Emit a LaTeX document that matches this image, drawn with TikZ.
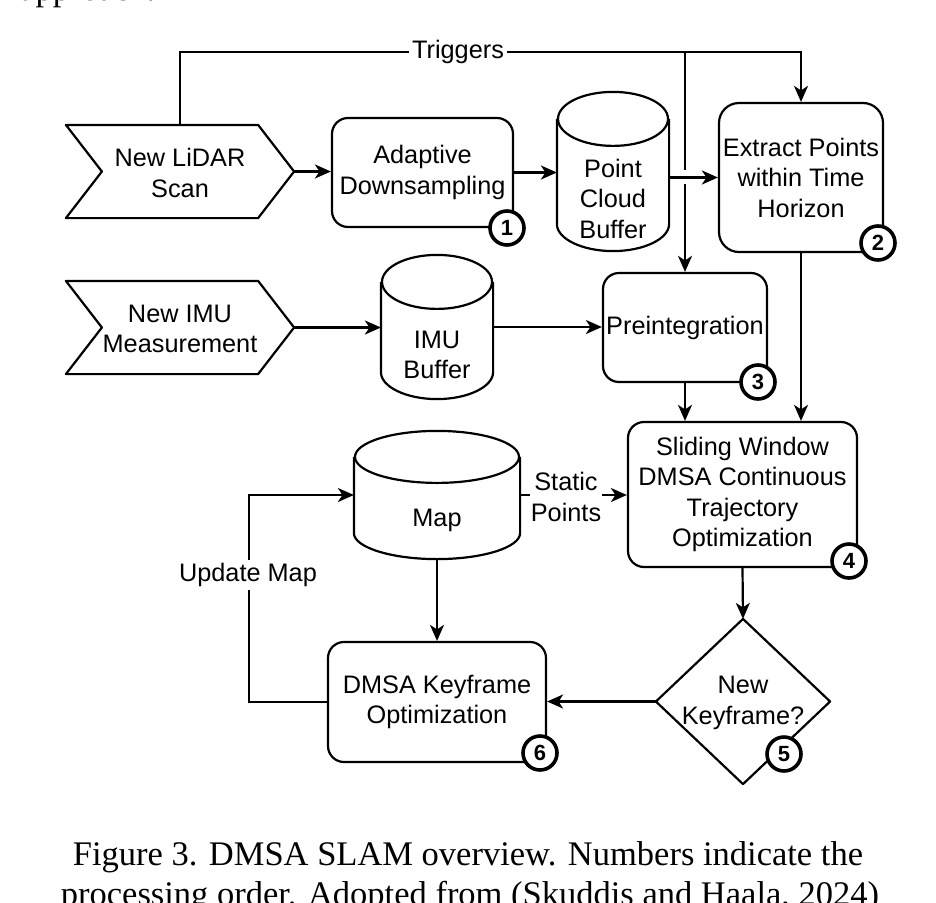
\documentclass[tikz,border=0pt]{standalone}
\usepackage{fontspec}
\setmainfont{Liberation Sans}
\newfontfamily\capfont{Liberation Serif}
\usetikzlibrary{arrows.meta,calc}
\newcommand\diagfs{\fontsize{25.3}{30.5}\selectfont}
\newcommand\drawcyl[3]{%
  \draw[line] ($(#1.north)+(0,#3)$) ellipse [x radius=#2pt, y radius=#3pt];
  \draw[line] ($(#1.north west)+(0,#3)$) -- ($(#1.south west)+(0,-#3)$)
     .. controls ($(#1.south west)+(0,-0.4477*#3)$) and ($(#1.south)+(-0.5523*#2,0)$) .. (#1.south)
     .. controls ($(#1.south)+(0.5523*#2,0)$) and ($(#1.south east)+(0,-0.4477*#3)$) .. ($(#1.south east)+(0,-#3)$)
     -- ($(#1.north east)+(0,#3)$);
}
\begin{document}
\begin{tikzpicture}[x=1pt,y=-1pt,
  line/.style={line width=2.2pt, line join=round},
  conn/.style={line width=2.2pt, -{Stealth[length=16pt,width=14pt,inset=4.5pt]}},
  box/.style={draw, line width=2.2pt, rounded corners=16pt, inner sep=0pt, align=center, font=\diagfs},
  ghost/.style={inner sep=0pt, outer sep=1.1pt},
  txt/.style={align=center, font=\diagfs, inner sep=0pt},
  badge/.style={circle, draw, line width=3.6pt, fill=white, minimum size=34pt, inner sep=0pt, font=\fontsize{22}{22}\selectfont\bfseries},
  lbl/.style={fill=white, inner sep=3pt, font=\diagfs, align=center},
  captxt/.style={anchor=base, inner sep=0pt, font=\capfont\fontsize{34.5}{40}\selectfont}
]
\path[use as bounding box] (0,0) rectangle (936,902);
\clip (0,0) rectangle (936,902);

% clipped surrounding text
\node[captxt, anchor=base west] (prevtxt) at (20,1) {approach.};
\node[captxt] (cap1) at (468,865) {Figure 3. DMSA SLAM overview. Numbers indicate the};
\node[captxt] (cap2) at (470,905) {processing order. Adopted from (Skuddis and Haala, 2024)};

% boxes
\node[box, minimum width=181pt, minimum height=109pt] (adapt) at (422.5,172.5) {Adaptive\\Downsampling};
\node[box, minimum width=164pt, minimum height=149pt, rounded corners=20pt] (extract) at (801,177.5) {Extract Points\\within Time\\Horizon};
\node[box, minimum width=164pt, minimum height=109pt] (preint) at (685,327.5) {Preintegration};
\node[box, minimum width=229pt, minimum height=145pt] (slide) at (742.5,494.5) {Sliding Window\\DMSA Continuous\\Trajectory\\Optimization};
\node[box, minimum width=218pt, minimum height=120pt] (kfopt) at (437,702) {DMSA Keyframe\\Optimization};

% chevrons
\node[ghost, minimum width=226pt, minimum height=91pt] (lidar) at (180,171.5) {};
\draw[line] (lidar.north west) -- ($(lidar.north east)+(-36,0)$) -- (lidar.east) -- ($(lidar.south east)+(-36,0)$) -- (lidar.south west) -- ($(lidar.west)+(36,0)$) -- cycle;
\node[txt] (lidartxt) at (180,173) {New LiDAR\\Scan};

\node[ghost, minimum width=226pt, minimum height=91pt] (imu) at (180,327.5) {};
\draw[line] (imu.north west) -- ($(imu.north east)+(-36,0)$) -- (imu.east) -- ($(imu.south east)+(-36,0)$) -- (imu.south west) -- ($(imu.west)+(36,0)$) -- cycle;
\node[txt] (imutxt) at (180,329) {New IMU\\Measurement};

% cylinders
\node[ghost, minimum width=110pt, minimum height=157pt] (pcb) at (613,171.5) {};
\drawcyl{pcb}{55}{27}
\node[txt] (pcbtxt) at (613,198.5) {Point\\Cloud\\Buffer};

\node[ghost, minimum width=110pt, minimum height=142pt] (imubuf) at (437,327) {};
\drawcyl{imubuf}{55}{27}
\node[txt] (imubuftxt) at (437,355) {IMU\\Buffer};

\node[ghost, minimum width=164pt, minimum height=126pt] (map) at (437,495) {};
\drawcyl{map}{82}{26}
\node[txt] (maptxt) at (437,520) {Map};

% diamond
\node[ghost, minimum width=172pt, minimum height=163pt] (newkf) at (743,701.5) {};
\draw[line] (newkf.north) -- (newkf.east) -- (newkf.south) -- (newkf.west) -- cycle;
\node[txt] (newkftxt) at (743,703) {New\\Keyframe?};

% connectors
\coordinate (trigL) at (180,52);
\draw[conn] (lidar.north) -- (trigL) -- (trigL -| extract.north) -- (extract.north);
\node[lbl] (trig) at (458,52) {Triggers};
\draw[conn] (trigL -| preint.north) -- (preint.north);
\fill[white] (678,170) rectangle (692,184);
\draw[conn] (lidar.east) -- (lidar.east -| adapt.west);
\draw[conn] (adapt.east) -- (adapt.east -| pcb.west);
\draw[conn] (pcb.east |- extract.west) -- (extract.west);
\draw[conn] (imu.east) -- (imu.east -| imubuf.west);
\draw[conn] (imubuf.east) -- (imubuf.east -| preint.west);
\draw[conn] (preint.south) -- (preint.south |- slide.north);
\draw[conn] (extract.south) -- (extract.south |- slide.north);
\draw[conn] (slide.south) -- (newkf.north);
\draw[conn] (map.east) -- (map.east -| slide.west);
\node[lbl, inner sep=1pt] (static) at (566,497) {Static\\Points};
\draw[conn] (newkf.west) -- (newkf.west -| kfopt.east);
\draw[conn] (map.south) -- (kfopt.north);
\coordinate (updL) at (249,702);
\draw[conn] (kfopt.west) -- (updL) |- (map.west);
\node[lbl] (upd) at (248,575) {Update Map};

% badges
\node[badge] (n1) at (507,228) {1};
\node[badge] (n2) at (878,243) {2};
\node[badge] (n3) at (758,382) {3};
\node[badge] (n4) at (849,561) {4};
\node[badge] (n5) at (784,754) {5};
\node[badge] (n6) at (540,753) {6};
\end{tikzpicture}
\end{document}
